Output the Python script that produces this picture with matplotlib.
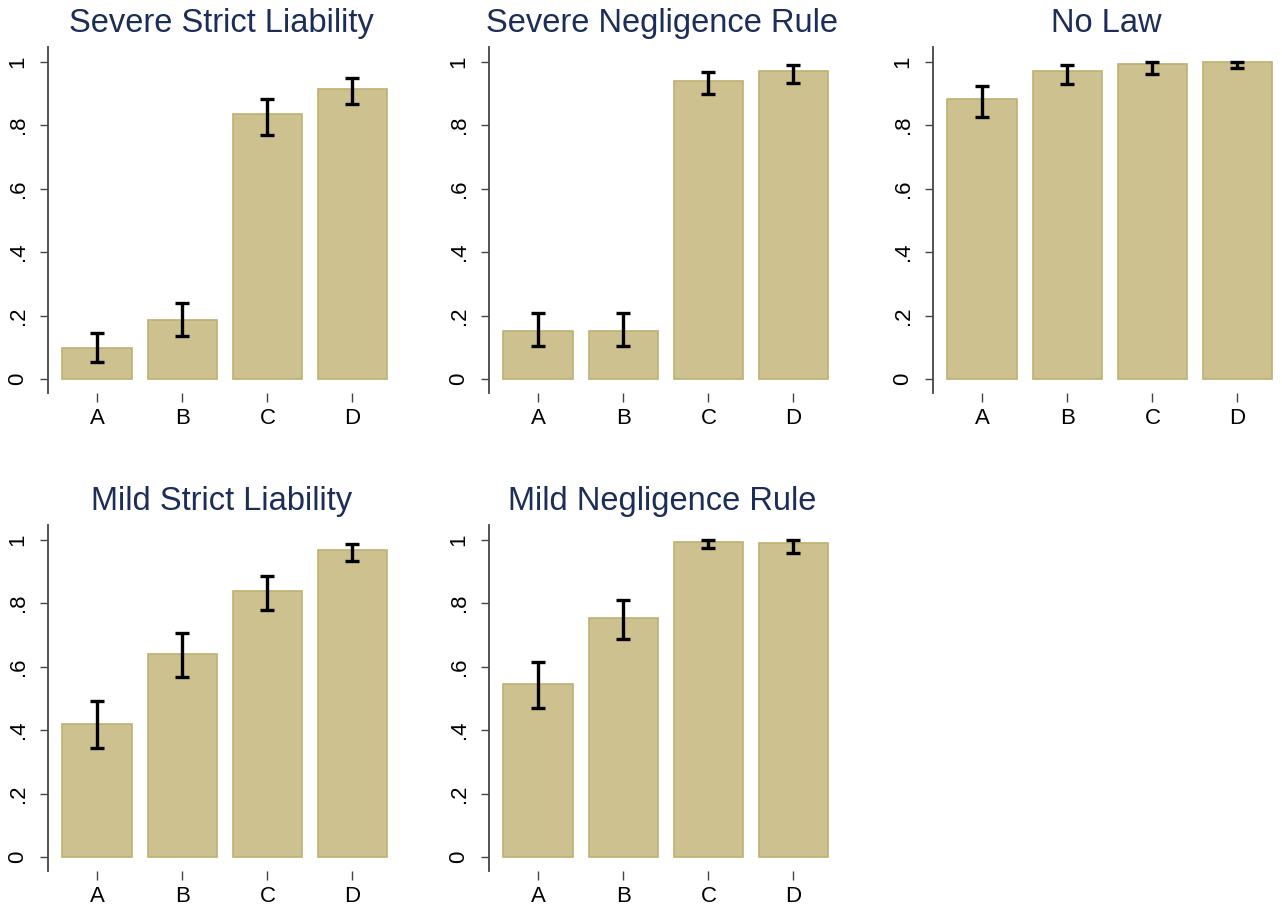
import matplotlib
matplotlib.use("Agg")
import matplotlib.pyplot as plt
import numpy as np

plt.rcParams['font.family'] = ['Liberation Sans', 'DejaVu Sans']

categories = ['A', 'B', 'C', 'D']
titles = ['Severe Strict Liability', 'Severe Negligence Rule', 'No Law',
          'Mild Strict Liability', 'Mild Negligence Rule']

# bar heights and 95% CI bounds
severe_strict = [0.097, 0.185, 0.834, 0.913]
severe_strict_lo = [0.055, 0.136, 0.770, 0.866]
severe_strict_hi = [0.144, 0.239, 0.882, 0.949]

severe_negl = [0.150, 0.150, 0.940, 0.970]
severe_negl_lo = [0.104, 0.104, 0.897, 0.934]
severe_negl_hi = [0.207, 0.207, 0.968, 0.990]

no_law = [0.883, 0.970, 0.992, 1.000]
no_law_lo = [0.827, 0.929, 0.960, 0.979]
no_law_hi = [0.923, 0.990, 1.000, 1.000]

mild_strict = [0.419, 0.640, 0.838, 0.968]
mild_strict_lo = [0.344, 0.567, 0.778, 0.933]
mild_strict_hi = [0.492, 0.706, 0.885, 0.987]

mild_negl = [0.544, 0.753, 0.992, 0.990]
mild_negl_lo = [0.469, 0.687, 0.975, 0.957]
mild_negl_hi = [0.614, 0.810, 1.000, 1.000]

panels = [
    (severe_strict, severe_strict_lo, severe_strict_hi),
    (severe_negl, severe_negl_lo, severe_negl_hi),
    (no_law, no_law_lo, no_law_hi),
    (mild_strict, mild_strict_lo, mild_strict_hi),
    (mild_negl, mild_negl_lo, mild_negl_hi),
]

W, H = 1282, 906
fig = plt.figure(figsize=(W / 100, H / 100), dpi=100)

lefts = [48, 489, 933]
row_tops = [47, 525]
ax_w, ax_h = 347, 346

bar_color = '#CDC28F'
edge_color = '#BDB070'
title_color = '#1c2d57'
spine_color = '#444444'

for i, (vals, lo, hi) in enumerate(panels):
    row, col = divmod(i, 3)
    left = lefts[col]
    top = row_tops[row]
    ax = fig.add_axes([left / W, 1 - (top + ax_h) / H, ax_w / W, ax_h / H])

    x = np.arange(1, len(categories) + 1)
    vals = np.array(vals)
    yerr = np.vstack([vals - np.array(lo), np.array(hi) - vals])
    ax.bar(x, vals, width=0.82, color=bar_color, edgecolor=edge_color, linewidth=1.2)
    ax.errorbar(x, vals, yerr=yerr, fmt='none', ecolor='black', elinewidth=2.4,
                capsize=5, capthick=2.4)

    ax.set_xlim(0.42, 4.5)
    ax.set_ylim(-0.044, 1.046)
    ax.set_yticks([0, 0.2, 0.4, 0.6, 0.8, 1.0])
    ax.set_yticklabels(['0', '.2', '.4', '.6', '.8', '1'], rotation=90, va='center')
    ax.set_xticks(x)
    ax.set_xticklabels(categories)

    for side in ['top', 'right', 'bottom']:
        ax.spines[side].set_visible(False)
    ax.spines['left'].set_color(spine_color)
    ax.spines['left'].set_linewidth(1.3)

    ax.tick_params(axis='y', length=6, width=1, color=spine_color, labelsize=16, pad=8)
    ax.tick_params(axis='x', length=6.5, width=1, color=spine_color, labelsize=16, pad=4)

    ax.set_title(titles[i], fontsize=23.5, color=title_color, pad=11)

fig.savefig('out.png', dpi=100)
